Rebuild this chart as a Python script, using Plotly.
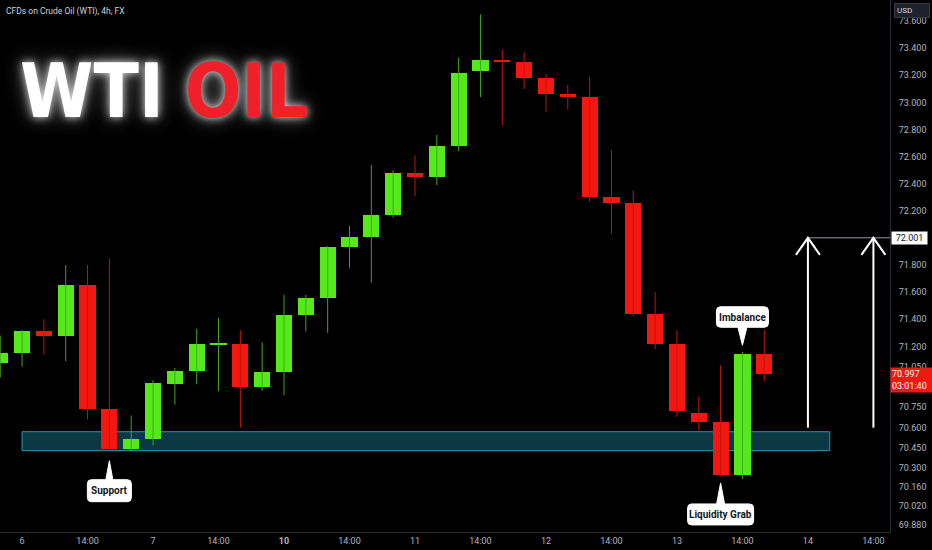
import plotly.graph_objects as go

# ---- data (4h candles) ----
idx = list(range(36))
opens = [71.08, 71.15, 71.31, 71.28, 71.65, 70.74, 70.44, 70.52, 70.92, 71.02,
         71.215, 71.22, 70.90, 71.01, 71.43, 71.56, 71.93, 72.01, 72.17, 72.48,
         72.45, 72.68, 73.23, 73.31, 73.30, 73.18, 73.06, 73.04, 72.30, 72.26,
         71.44, 71.22, 70.71, 70.64, 70.25, 71.14]
highs = [71.28, 71.32, 71.40, 71.80, 71.80, 71.85, 70.69, 70.95, 71.04, 71.33,
         71.41, 71.32, 71.23, 71.58, 71.58, 71.94, 72.09, 72.54, 72.50, 72.61,
         72.76, 73.33, 73.65, 73.39, 73.37, 73.21, 73.13, 73.19, 72.65, 72.35,
         71.60, 71.32, 70.83, 71.06, 71.16, 71.32]
lows = [70.97, 71.05, 71.14, 71.09, 70.66, 70.43, 70.43, 70.47, 70.77, 70.92,
        70.87, 70.60, 70.87, 70.84, 71.31, 71.30, 71.78, 71.67, 72.15, 72.31,
        72.39, 72.64, 73.04, 72.83, 73.10, 72.93, 72.95, 72.27, 72.03, 71.42,
        71.18, 70.68, 70.58, 70.24, 70.22, 70.94]
closes = [71.15, 71.31, 71.28, 71.65, 70.74, 70.44, 70.52, 70.93, 71.02, 71.22,
          71.225, 70.90, 71.01, 71.43, 71.56, 71.93, 72.01, 72.17, 72.48, 72.45,
          72.68, 73.22, 73.31, 73.30, 73.18, 73.06, 73.04, 72.30, 72.26, 71.44,
          71.22, 70.72, 70.64, 70.25, 71.14, 70.997]

x_tick_pos = [1, 4, 7, 10, 13, 16, 19, 22, 25, 28, 31, 34, 37, 40]
x_tick_text = ["6", "14:00", "7", "14:00", "<b>10</b>", "14:00", "11", "14:00",
               "12", "14:00", "13", "14:00", "14", "14:00"]
y_tick_vals = [73.6, 73.4, 73.2, 73.0, 72.8, 72.6, 72.4, 72.2, 71.8, 71.6, 71.4,
               71.2, 71.05, 70.75, 70.6, 70.45, 70.3, 70.16, 70.02, 69.88]

support_zone = (70.43, 70.57)     # price band
support_span = (1, 38)            # candle index span
target_price = 72.001
arrow_start = 70.60
arrow_idx = [37, 40]
last_price = 70.997
countdown = "03:01:40"

GREEN = "#55E81B"
RED = "#F2170F"
GREEN_WICK = "#3FA81A"
RED_WICK = "#C0150F"
AXIS_TXT = "#B2B5BE"

fig = go.Figure()

# wicks
for up, col in ((True, GREEN_WICK), (False, RED_WICK)):
    xs, ys = [], []
    for i, o, h, l, c in zip(idx, opens, highs, lows, closes):
        if (c >= o) == up:
            xs += [i, i, None]
            ys += [l, h, None]
    fig.add_trace(go.Scatter(x=xs, y=ys, mode="lines", line=dict(color=col, width=1),
                             hoverinfo="skip", showlegend=False))

# bodies
fig.add_trace(go.Bar(
    x=idx,
    base=[min(o, c) for o, c in zip(opens, closes)],
    y=[abs(c - o) for o, c in zip(opens, closes)],
    width=0.74,
    marker=dict(color=[GREEN if c >= o else RED for o, c in zip(opens, closes)], line=dict(width=0)),
    showlegend=False, hoverinfo="skip"))

shapes = []
# support zone
shapes.append(dict(type="rect", xref="x", yref="y", x0=support_span[0], x1=support_span[1],
                   y0=support_zone[0], y1=support_zone[1], fillcolor="#0B3842",
                   line=dict(color="#1E9DB5", width=1), layer="below"))

# target line
shapes.append(dict(type="line", xref="x", yref="y", x0=arrow_idx[0], x1=40.76,
                   y0=target_price, y1=target_price, line=dict(color="#9598A1", width=1)))
# arrows
for ax in arrow_idx:
    shapes.append(dict(type="line", xref="x", yref="y", x0=ax, x1=ax, y0=arrow_start,
                       y1=target_price, line=dict(color="white", width=2)))
    shapes.append(dict(type="path", xref="x", yref="y", xsizemode="pixel", ysizemode="pixel",
                       xanchor=ax, yanchor=target_price,
                       path="M-12,-17 L0,0 L12,-17", line=dict(color="white", width=2)))


def callout(hw, top, bottom, tip, tri, pointing_down):
    r = 4
    if pointing_down:
        p = (f"M{-hw + r},{top} L{hw - r},{top} Q{hw},{top} {hw},{top - r} "
             f"L{hw},{bottom + r} Q{hw},{bottom} {hw - r},{bottom} "
             f"L{tri},{bottom} L0,{tip} L{-tri},{bottom} "
             f"L{-hw + r},{bottom} Q{-hw},{bottom} {-hw},{bottom + r} "
             f"L{-hw},{top - r} Q{-hw},{top} {-hw + r},{top} Z")
    else:
        p = (f"M{-hw + r},{top} L{-tri},{top} L0,{tip} L{tri},{top} L{hw - r},{top} "
             f"Q{hw},{top} {hw},{top - r} "
             f"L{hw},{bottom + r} Q{hw},{bottom} {hw - r},{bottom} "
             f"L{-hw + r},{bottom} Q{-hw},{bottom} {-hw},{bottom + r} "
             f"L{-hw},{top - r} Q{-hw},{top} {-hw + r},{top} Z")
    return p


annotations = []
call_specs = [
    # text, candle, anchor price, half width, top, bottom, tip, tri, down, text shift
    ("Imbalance", 34, highs[34], 26, 45, 24.5, 6.5, 4.5, True, 34.7),
    ("Liquidity Grab", 33, lows[33], 33, -27.5, -48.5, -6.5, 4, False, -38),
    ("Support", 5, lows[5], 22, -29, -51, -10, 3.5, False, -40),
]
for text, ci, price, hw, top, bottom, tip, tri, down, ts in call_specs:
    shapes.append(dict(type="path", xref="x", yref="y", xsizemode="pixel", ysizemode="pixel",
                       xanchor=ci, yanchor=price,
                       path=callout(hw, top, bottom, tip, tri, down),
                       fillcolor="white", line=dict(color="white", width=1)))
    annotations.append(dict(x=ci, y=price, xref="x", yref="y", text=f"<b>{text}</b>",
                            showarrow=False, yshift=ts, yanchor="middle",
                            font=dict(family="Roboto, Noto Sans, sans-serif", size=10, color="#131722")))

# header
annotations.append(dict(xref="paper", yref="paper", x=0, y=1, xshift=4, yshift=-4,
                        xanchor="left", yanchor="top", showarrow=False,
                        text="CFDs on Crude Oil (WTI), 4h, FX",
                        font=dict(family="Roboto, sans-serif", size=8.5, color="#D1D4DC")))
# big title
title_font = "DejaVu Sans Condensed, Liberation Sans Narrow, sans-serif"
annotations.append(dict(xref="paper", yref="paper", x=0, y=1, xshift=18, yshift=-46,
                        xanchor="left", yanchor="top", showarrow=False,
                        text="<b>WTI</b> <b><span style='color:#F0202A'>OIL</span></b>",
                        font=dict(family=title_font, size=74, color="white",
                                  shadow="0 0 8px rgba(255,255,255,0.85), 0 0 20px rgba(190,190,190,0.6)")))

# USD box
annotations.append(dict(xref="paper", yref="paper", x=1, y=1, xshift=4, yshift=-3,
                        xanchor="left", yanchor="top", showarrow=False, text="USD",
                        bgcolor="#1E222D", bordercolor="#363A45", borderwidth=1, borderpad=2,
                        width=30, align="left",
                        font=dict(family="Roboto, sans-serif", size=8, color="#D1D4DC")))
# target label
annotations.append(dict(xref="paper", yref="y", x=1, y=target_price, xshift=1,
                        xanchor="left", yanchor="middle", showarrow=False,
                        text=f"{target_price:.3f}", bgcolor="white", borderpad=1, width=33,
                        font=dict(family="Roboto, sans-serif", size=9, color="#131722")))
# last price label
annotations.append(dict(xref="paper", yref="y", x=1, y=last_price, xshift=0, yshift=-6,
                        xanchor="left", yanchor="middle", showarrow=False,
                        text=f"{last_price:.3f}<br>{countdown}", bgcolor="#F2170F",
                        borderpad=1, width=40, align="left",
                        font=dict(family="Roboto, sans-serif", size=9, color="white")))

fig.update_layout(
    width=932, height=550,
    margin=dict(l=0, r=42, t=0, b=18),
    paper_bgcolor="black", plot_bgcolor="black",
    bargap=0, showlegend=False,
    shapes=shapes, annotations=annotations,
    xaxis=dict(range=[-0.01, 40.76], tickvals=x_tick_pos, ticktext=x_tick_text,
               showgrid=False, zeroline=False, showline=True, linecolor="#2A2E39",
               ticks="", tickfont=dict(family="Roboto, sans-serif", size=9, color=AXIS_TXT),
               fixedrange=True),
    yaxis=dict(range=[69.83, 73.756], side="right", tickvals=y_tick_vals,
               ticktext=[f"{v:.3f}" for v in y_tick_vals],
               showgrid=False, zeroline=False, showline=True, linecolor="#2A2E39",
               ticks="", ticklabelstandoff=6,
               tickfont=dict(family="Roboto, sans-serif", size=9, color=AXIS_TXT),
               fixedrange=True),
)

fig.write_html("out.html", config={"displayModeBar": False},
               post_script="document.body.style.margin='0';document.body.style.background='black';")
